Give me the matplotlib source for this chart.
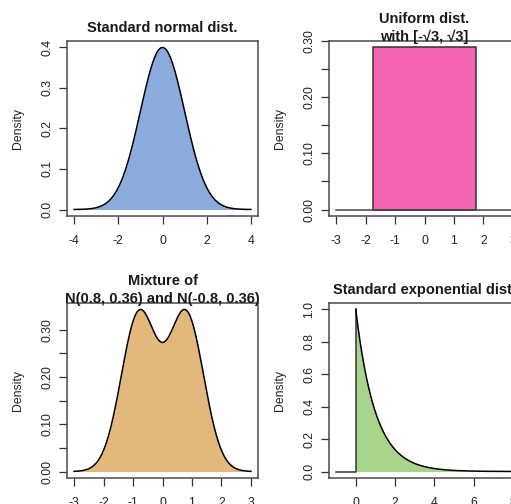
import numpy as np
import matplotlib
matplotlib.use("Agg")
import matplotlib.pyplot as plt
from matplotlib.patches import Rectangle

plt.rcParams['font.family'] = ['Liberation Sans', 'DejaVu Sans']

# ---- data (distribution parameters and axis ranges) ----
titles = ["Standard normal dist.",
          "Uniform dist.\nwith [-\u221a3, \u221a3]",
          "Mixture of\nN(0.8, 0.36) and N(-0.8, 0.36)",
          "Standard exponential dist."]
fill_colors = ["#8BABDD", "#F566B1", "#E2B87D", "#A9D48B"]

normal_mean, normal_sd = 0.0, 1.0
normal_xrange = [-4, 4]
normal_xticks = [-4, -2, 0, 2, 4]
normal_yticks = [0.0, 0.1, 0.2, 0.3, 0.4]
normal_ylabels = ["0.0", "0.1", "0.2", "0.3", "0.4"]

unif_low, unif_high = -np.sqrt(3), np.sqrt(3)
unif_xrange = [-3, 3]
unif_xticks = [-3, -2, -1, 0, 1, 2, 3]
unif_yticks = [0.00, 0.05, 0.10, 0.15, 0.20, 0.25, 0.30]
unif_ylabels = ["0.00", "", "0.10", "", "0.20", "", "0.30"]

mix_means = [0.8, -0.8]
mix_var = 0.36
mix_weights = [0.5, 0.5]
mix_xrange = [-3, 3]
mix_xticks = [-3, -2, -1, 0, 1, 2, 3]
mix_yticks = [0.00, 0.05, 0.10, 0.15, 0.20, 0.25, 0.30]
mix_ylabels = ["0.00", "", "0.10", "", "0.20", "", "0.30"]

exp_rate = 1.0
exp_xrange = [-1, 8]
exp_xticks = [0, 2, 4, 6, 8]
exp_yticks = [0.0, 0.2, 0.4, 0.6, 0.8, 1.0]
exp_ylabels = ["0.0", "0.2", "0.4", "0.6", "0.8", "1.0"]


def npdf(x, m, s):
    return np.exp(-0.5 * ((x - m) / s) ** 2) / (s * np.sqrt(2 * np.pi))


W, H = 511, 504
fig = plt.figure(figsize=(W / 100, H / 100), dpi=100)

AXW, AXH = 191, 175
def make_ax(left, top):
    return fig.add_axes([left / W, (H - top - AXH) / H, AXW / W, AXH / H])

axes = [make_ax(67, 41), make_ax(329, 41), make_ax(67, 303), make_ax(329, 303)]

TICK_FS = 8.8
TITLE_FS = 10.5
SPINE_C = "#4a4a4a"


def style(ax, xr, yr, xticks, yticks, ylabels, title):
    dx = (xr[1] - xr[0]) * 0.04
    dy = (yr[1] - yr[0]) * 0.04
    ax.set_xlim(xr[0] - dx, xr[1] + dx)
    ax.set_ylim(yr[0] - dy, yr[1] + dy)
    ax.set_xticks(xticks)
    ax.set_xticklabels([str(t) for t in xticks])
    ax.set_yticks(yticks)
    ax.set_yticklabels(ylabels)
    for sp in ax.spines.values():
        sp.set_color(SPINE_C)
        sp.set_linewidth(1.1)
    ax.tick_params(direction='out', length=5.5, width=0.9, color="#333333",
                   labelsize=TICK_FS, labelcolor="#222222")
    ax.tick_params(axis='x', pad=8.2)
    ax.tick_params(axis='y', pad=4.2)
    for lab in ax.get_yticklabels():
        lab.set_rotation(90)
        lab.set_va('center')
        lab.set_ha('right')
    yl = ax.set_ylabel("Density", fontsize=TICK_FS, color="#222222")
    yl.set_va('center')
    ax.yaxis.set_label_coords(-49 / AXW, 0.5)
    ax.text(0.5, 1 + 13 / AXH, title, transform=ax.transAxes, ha='center',
            va='center', fontsize=TITLE_FS, fontweight='bold', color="#1a1a1a",
            linespacing=1.35)


# Panel 1: normal
ax = axes[0]
x = np.linspace(normal_xrange[0], normal_xrange[1], 801)
y = npdf(x, normal_mean, normal_sd)
ax.fill_between(x, 0, y, color=fill_colors[0], linewidth=0)
ax.plot(x, y, color="black", lw=1.1)
style(ax, normal_xrange, [0, y.max()], normal_xticks, normal_yticks,
      normal_ylabels, titles[0])

# Panel 2: uniform
ax = axes[1]
h = 1.0 / (unif_high - unif_low)
ax.plot(unif_xrange, [0, 0], color="#444444", lw=1.1)
ax.add_patch(Rectangle((unif_low, 0), unif_high - unif_low, h,
                       facecolor=fill_colors[1], edgecolor="#333333", lw=1.1))
style(ax, unif_xrange, [0, h], unif_xticks, unif_yticks, unif_ylabels, titles[1])

# Panel 3: mixture
ax = axes[2]
x = np.linspace(mix_xrange[0], mix_xrange[1], 801)
y = sum(w * npdf(x, m, np.sqrt(mix_var)) for w, m in zip(mix_weights, mix_means))
ax.fill_between(x, 0, y, color=fill_colors[2], linewidth=0)
ax.plot(x, y, color="black", lw=1.1)
style(ax, mix_xrange, [0, y.max()], mix_xticks, mix_yticks, mix_ylabels, titles[2])

# Panel 4: exponential
ax = axes[3]
xp = np.linspace(0, exp_xrange[1], 801)
yp = exp_rate * np.exp(-exp_rate * xp)
ax.fill_between(xp, 0, yp, color=fill_colors[3], linewidth=0)
ax.plot([exp_xrange[0], 0, 0], [0, 0, yp[0]], color="#333333", lw=1.1)
ax.plot(xp, yp, color="black", lw=1.1)
style(ax, exp_xrange, [0, yp.max()], exp_xticks, exp_yticks, exp_ylabels, titles[3])

fig.savefig("out.png", dpi=100)
